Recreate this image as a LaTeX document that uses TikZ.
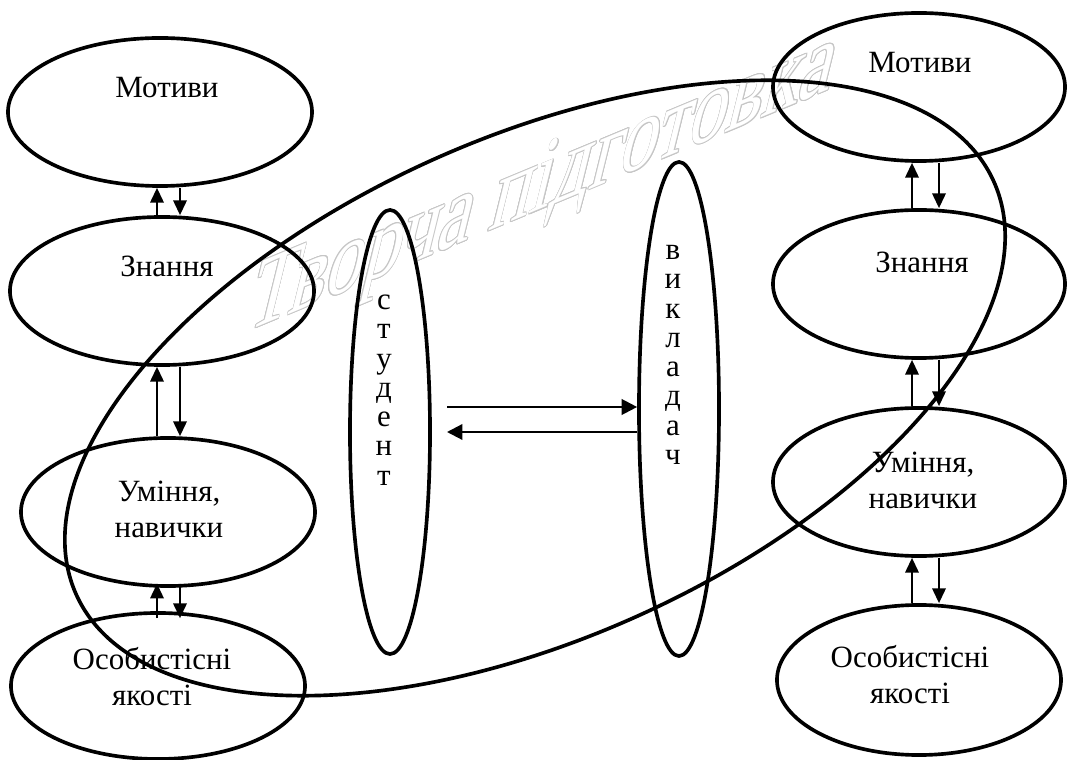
\documentclass[tikz,border=0pt]{standalone}
\usepackage{fontspec}
\setmainfont{Liberation Serif}
\newfontfamily\markfont[FakeSlant=0.35]{Liberation Serif}
\usepackage{contour}
\contourlength{0.5pt}
\usetikzlibrary{arrows.meta,positioning,shapes.geometric}

\begin{document}
\begin{tikzpicture}[x=0.025cm, y=-0.025cm]
  \tikzstyle{oval} = [ellipse, draw=black, line width=2.6pt, minimum width=7.4cm, minimum height=3.7cm, inner sep=0pt]
  \tikzstyle{pole} = [ellipse, draw=black, line width=2.6pt, minimum width=2cm, inner sep=0pt]
  \tikzstyle{word} = [font=\fontsize{22}{25.5}\selectfont, align=center, inner sep=0pt]
  \tikzstyle{letters} = [font=\fontsize{22}{20.8}\selectfont, align=center, inner sep=0pt]
  \tikzstyle{arrow} = [-{Triangle[length=10.5pt,width=9.5pt]}, line width=1.6pt]

  \useasboundingbox (0,0) rectangle (1067,760);

  % watermark, slanted upwards like word art
  \node (mark) [yslant=0.416, yscale=1.28, anchor=base west, inner sep=0pt,
    font=\fontsize{54}{60}\selectfont\markfont] at (244,333)
    {\contour{gray!45}{\textcolor{white}{Творча підготовка}}};

  \node (tvorcha) [ellipse, draw=black, line width=2.6pt, inner sep=0pt,
    minimum width=25.15cm, minimum height=12.5cm, rotate=24.25] at (535,388) {};

  % left column
  \node (motL) [oval, minimum width=7.6cm] at (160,112) {};
  \node (znL) [oval, minimum width=7.6cm] at (162,291) {};
  \node (umL) [oval, minimum width=7.35cm] at (168,512) {};
  \node (osL) [oval, minimum width=7.35cm, minimum height=3.65cm] at (158,686) {};

  \node (tmotL) [word] at (167,88) {Мотиви};
  \node (tznL) [word] at (167,266) {Знання};
  \node (tumL) [word] at (169,509) {Уміння,\\навички};
  \node (tosL) [word] at (152,677) {Особистісні\\якості};

  % right column
  \node (motR) [oval, minimum width=7.3cm] at (919,87) {};
  \node (znR) [oval, minimum width=7.3cm] at (919,284) {};
  \node (umR) [oval, minimum width=7.3cm] at (919,482) {};
  \node (osR) [oval, minimum width=7.1cm, minimum height=3.75cm] at (919,680) {};

  \node (tmotR) [word] at (920,63) {Мотиви};
  \node (tznR) [word] at (922,262) {Знання};
  \node (tumR) [word] at (923,480) {Уміння,\\навички};
  \node (tosR) [word] at (910,675) {Особистісні\\якості};

  % student and teacher
  \node (stud) [pole, minimum height=11.1cm] at (390,432) {};
  \node (vyk) [pole, minimum height=12.35cm] at (679,409) {};
  \node (tstud) [letters] at (384,390) {с\\т\\у\\д\\е\\н\\т};
  \node (tvyk) [letters] at (673,355) {в\\и\\к\\л\\а\\д\\а\\ч};

  \coordinate (upL) at (157,0);
  \coordinate (dnL) at (180,0);
  \coordinate (upR) at (912,0);
  \coordinate (dnR) at (939,0);

  \draw [arrow] (znL.north -| upL) -- (motL.south -| upL);
  \draw [arrow] (motL.south -| dnL) -- (znL.north -| dnL);
  \draw [arrow] (umL.north -| upL) -- (znL.south -| upL);
  \draw [arrow] (znL.south -| dnL) -- (umL.north -| dnL);
  % these two run a little into the ovals
  \draw [arrow, shorten <=-5pt, shorten >=-3pt] (osL.north -| upL) -- (umL.south -| upL);
  \draw [arrow, shorten <=-3pt, shorten >=-5pt] (umL.south -| dnL) -- (osL.north -| dnL);

  \draw [arrow] (znR.north -| upR) -- (motR.south -| upR);
  \draw [arrow] (motR.south -| dnR) -- (znR.north -| dnR);
  \draw [arrow] (umR.north -| upR) -- (znR.south -| upR);
  \draw [arrow] (znR.south -| dnR) -- (umR.north -| dnR);
  \draw [arrow] (osR.north -| upR) -- (umR.south -| upR);
  \draw [arrow] (umR.south -| dnR) -- (osR.north -| dnR);

  % exchange
  \coordinate (fromS) at (447,407);
  \coordinate (toS) at (447,432);
  \draw [arrow, -{Triangle[length=11pt,width=11pt]}] (fromS) -- (fromS -| vyk.west);
  \draw [arrow, -{Triangle[length=11pt,width=11pt]}] (toS -| vyk.west) -- (toS);
\end{tikzpicture}
\end{document}
